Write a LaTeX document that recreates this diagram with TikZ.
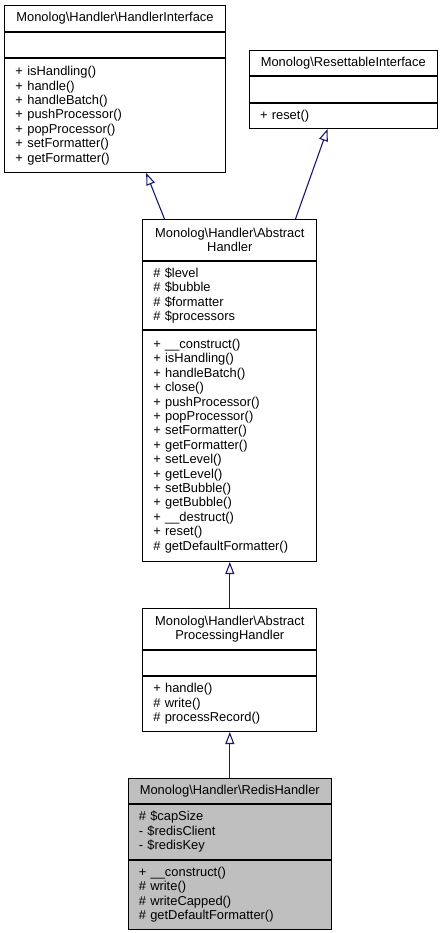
\documentclass[tikz,border=0pt]{standalone}
\usepackage{fontspec}
\setmainfont{Liberation Sans}
\usetikzlibrary{positioning,arrows.meta}
\definecolor{edgeblue}{HTML}{191970}
\definecolor{classgray}{HTML}{BFBFBF}

\begin{document}
\begin{tikzpicture}[x=1bp,y=-1bp,
part/.style={draw=black, line width=1bp, inner xsep=10.5bp, inner ysep=2bp, align=left,
  font=\fontsize{12.9bp}{14.4bp}\selectfont},
title/.style={part, align=center, inner xsep=3bp},
inherit/.style={draw=edgeblue, line width=1.1bp, -{Triangle[open, length=12bp, width=9bp]}}]
\useasboundingbox (0,0) rectangle (445,933);
\node[title, text width=214bp, minimum height=25.5bp, anchor=north] (hi1) at (115,5)
  {Monolog\textbackslash Handler\textbackslash HandlerInterface};
\node[part, text width=199bp, minimum height=25.5bp, below=0pt of hi1] (hi2) {};
\node[part, text width=199bp, minimum height=114bp, below=0pt of hi2] (hi3)
  {+ isHandling()\\+ handle()\\+ handleBatch()\\+ pushProcessor()\\+ popProcessor()\\+ setFormatter()\\+ getFormatter()};
\node[title, text width=181.5bp, minimum height=25.5bp, anchor=north] (ri1) at (343.25,49.5)
  {Monolog\textbackslash ResettableInterface};
\node[part, text width=166.5bp, minimum height=25.5bp, below=0pt of ri1] (ri2) {};
\node[part, text width=166.5bp, minimum height=25.5bp, below=0pt of ri2] (ri3) {+ reset()};
\node[title, text width=168bp, minimum height=41bp, anchor=north] (ah1) at (229.8,219)
  {Monolog\textbackslash Handler\textbackslash Abstract\\Handler};
\node[part, text width=153bp, minimum height=68bp, below=0pt of ah1] (ah2)
  {\# \$level\\\# \$bubble\\\# \$formatter\\\# \$processors};
\node[part, text width=153bp, minimum height=231bp, below=0pt of ah2] (ah3)
  {+ \_\_construct()\\+ isHandling()\\+ handleBatch()\\+ close()\\+ pushProcessor()\\+ popProcessor()\\+ setFormatter()\\+ getFormatter()\\+ setLevel()\\+ getLevel()\\+ setBubble()\\+ getBubble()\\+ \_\_destruct()\\+ reset()\\\# getDefaultFormatter()};
\node[title, text width=168bp, minimum height=41bp, anchor=north] (aph1) at (229.8,608)
  {Monolog\textbackslash Handler\textbackslash Abstract\\ProcessingHandler};
\node[part, text width=153bp, minimum height=25bp, below=0pt of aph1] (aph2) {};
\node[part, text width=153bp, minimum height=55bp, below=0pt of aph2] (aph3)
  {+ handle()\\\# write()\\\# processRecord()};
\node[title, fill=classgray, text width=197bp, minimum height=24.5bp, anchor=north] (rh1) at (229.8,778.3)
  {Monolog\textbackslash Handler\textbackslash RedisHandler};
\node[part, fill=classgray, text width=182bp, minimum height=55bp, below=0pt of rh1] (rh2)
  {\# \$capSize\\- \$redisClient\\- \$redisKey};
\node[part, fill=classgray, text width=182bp, minimum height=69bp, below=0pt of rh2] (rh3)
  {+ \_\_construct()\\\# write()\\\# writeCapped()\\\# getDefaultFormatter()};
\draw[inherit] ([xshift=22.2bp]ah1.north west) -- ([xshift=141.7bp]hi3.south west);
\draw[inherit] ([xshift=-21.8bp]ah1.north east) -- ([xshift=78.5bp]ri3.south west);
\draw[inherit] (aph1.north) -- (ah3.south);
\draw[inherit] (rh1.north) -- (aph3.south);
\end{tikzpicture}
\end{document}
